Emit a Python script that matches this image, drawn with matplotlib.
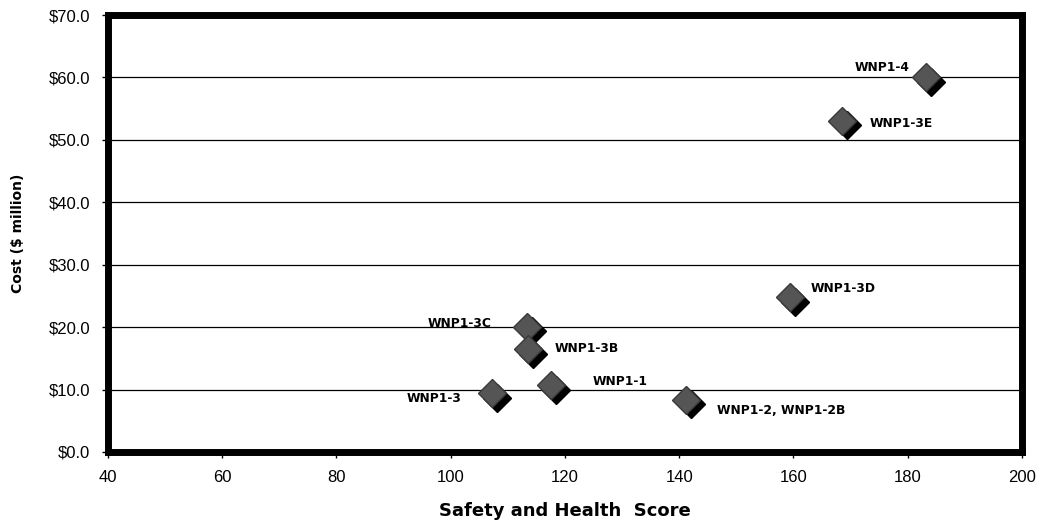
import matplotlib
matplotlib.use("Agg")
import matplotlib.pyplot as plt
import matplotlib.transforms as mtransforms
from matplotlib.ticker import FuncFormatter

# data
names = ["WNP1-4", "WNP1-3E", "WNP1-3D", "WNP1-3C", "WNP1-3B",
         "WNP1-1", "WNP1-3", "WNP1-2, WNP1-2B"]
score = [183.2, 168.5, 159.4, 113.3, 113.5, 117.5, 107.3, 141.2]
cost = [60.0, 53.1, 24.8, 20.1, 16.5, 10.7, 9.4, 8.4]
# label offsets (points) and alignment
label_dx = [-12, 20, 15, -25, 19, 30, -22, 22]
label_dy = [7, -2, 6, 2, 0, 3, -4, -8]
label_ha = ["right", "left", "left", "right", "left", "left", "right", "left"]

plt.rcParams["font.family"] = ["Liberation Sans", "DejaVu Sans"]

fig = plt.figure(figsize=(10.42, 5.23), dpi=100)
ax = fig.add_axes([0.1036, 0.1358, 0.8772, 0.8355])

ax.set_xlim(40, 200)
ax.set_ylim(0, 70)
ax.set_xticks(range(40, 201, 20))
ax.set_yticks(range(0, 71, 10))
ax.yaxis.set_major_formatter(FuncFormatter(lambda v, p: "${:.1f}".format(v)))
ax.grid(axis="y", color="black", linewidth=0.9)
ax.set_axisbelow(True)

for s in ax.spines.values():
    s.set_linewidth(5)
    s.set_color("black")

ax.tick_params(axis="both", labelsize=12, length=4, width=1, color="black")
ax.tick_params(axis="x", pad=9)
ax.tick_params(axis="y", pad=9)

# shadow then the diamond itself
shadow = mtransforms.offset_copy(ax.transData, fig=fig, x=3.5, y=-3.5, units="points")
ax.plot(score, cost, "D", ms=14.5, color="black", transform=shadow, zorder=3)
ax.plot(score, cost, "D", ms=14.5, markerfacecolor="#555555",
        markeredgecolor="#3a3a3a", markeredgewidth=1, linestyle="none", zorder=4)

for n, x, y, dx, dy, ha in zip(names, score, cost, label_dx, label_dy, label_ha):
    ax.annotate(n, (x, y), xytext=(dx, dy), textcoords="offset points",
                ha=ha, va="center", fontsize=8.8, fontweight="bold",
                family="DejaVu Sans")

ax.set_ylabel("Cost ($ million)", fontsize=10, fontweight="bold",
              family="DejaVu Sans", labelpad=17)
ax.set_xlabel("Safety and Health  Score", fontsize=13, fontweight="bold",
              family="DejaVu Sans", labelpad=12)

fig.savefig("out.png", dpi=100)
